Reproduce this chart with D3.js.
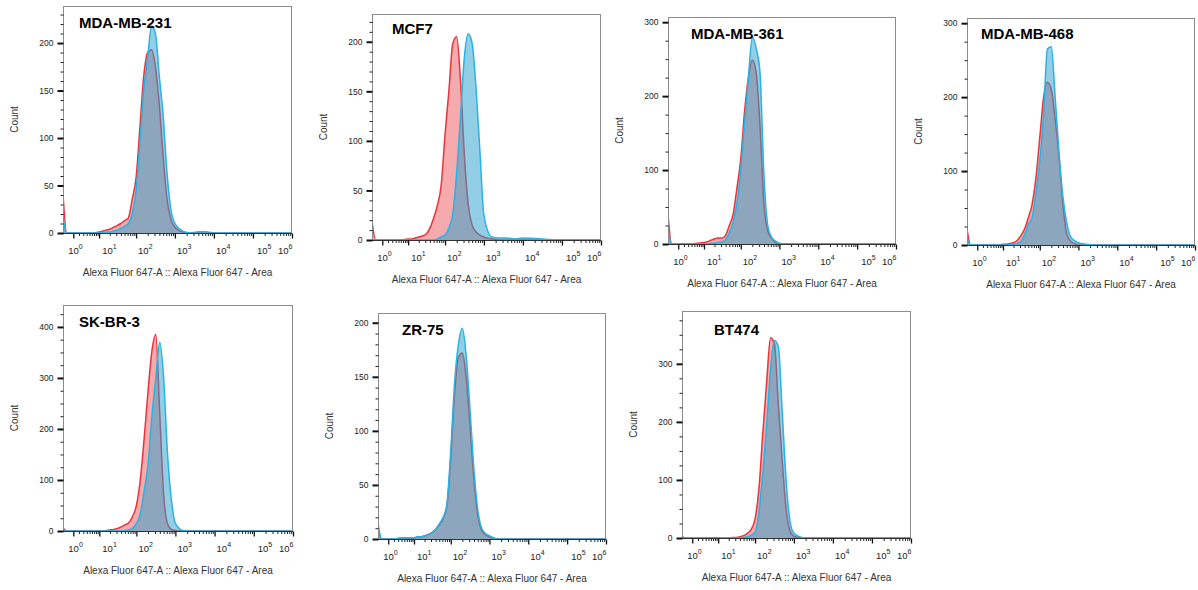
<!DOCTYPE html>
<html>
<head>
<meta charset="utf-8">
<script src="https://cdn.jsdelivr.net/npm/d3@7"></script>
<style>
  body { margin: 0; background: #fff; }
  svg { display: block; font-family: "Liberation Sans", Arial, sans-serif; }
</style>
</head>
<body>
<svg id="chart" width="1198" height="590"></svg>
<script>
// channel values (Alexa Fluor 647-A) where the histogram counts were read
var intensity = [-0.15, 0.2, 1, 2, 4, 6.3, 10, 12.6, 15.8, 20, 25, 32, 40, 50, 63, 79, 100, 126,
  158, 200, 251, 316, 398, 501, 631, 794, 1000, 1585, 2512, 3981, 6310, 10000, 100000, 1000000];

// red = control, blue = stained
var mdaMb231Control = [41,0,0,0,0,0,1,2,3,4,6,8,10,13,16,35,58,112,165,190,193,175,135,80,35,14,6,1,0,1,1,0,0,0];
var mdaMb231Stained = [16,0,0,0,0,0,0,0,1,1,2,3,5,7,10,20,45,95,150,185,218,210,165,123,62,24,10,2,0,0,0,0,0,0];
var mcf7Control = [19,0,0,0,0,0,1,1,2,3,4,6,12,22,35,55,107,151,198,205,160,85,35,15,8,5,3,1,0,0,0,0,0,0];
var mcf7Stained = [0,0,0,0,0,0,0,0,0,0,0,0,0,0,1,3,5,12,26,68,125,185,208,198,152,88,25,3,2,2,1,2,0,0];
var mdaMb361Control = [40,0,0,0,0,1,2,3,5,7,8,8,12,25,40,75,115,180,225,249,232,160,55,18,8,2,0,0,0,0,0,0,0,0];
var mdaMb361Stained = [21,0,0,0,0,0,0,0,1,1,2,3,6,15,30,55,100,165,225,280,265,232,95,25,9,4,1,0,0,0,0,0,0,0];
var mdaMb468Control = [22,0,0,0,0,0,1,1,2,3,6,13,22,37,55,90,145,200,220,210,170,120,55,15,5,2,0,0,0,0,0,0,0,0];
var mdaMb468Stained = [9,0,0,0,0,0,0,0,1,1,2,5,14,28,37,70,113,178,265,268,200,125,65,30,11,6,3,1,0,0,0,0,0,0];
var skBr3Control = [6,0,0,0,0,0,0,0,1,2,3,5,8,12,16,28,50,100,180,275,353,385,230,72,14,3,1,0,0,0,0,0,0,0];
var skBr3Stained = [0,0,0,0,0,0,0,0,0,0,0,0,0,1,2,5,15,33,78,130,225,300,370,300,150,60,15,1,0,0,0,0,0,0];
var zr75Control = [10,0,0,0,1,1,1,2,2,3,4,6,9,13,19,30,75,135,168,172,150,105,55,22,8,4,2,0,0,0,0,0,0,0];
var zr75Stained = [15,0,0,0,1,1,1,2,2,3,4,6,9,14,20,32,82,145,180,195,170,120,65,27,10,5,3,0,0,0,0,0,0,0];
var bt474Control = [3,0,0,0,0,0,0,0,0,0,1,1,2,4,8,15,33,85,179,270,345,335,230,133,50,12,3,0,0,0,0,0,0,0];
var bt474Stained = [1,0,0,0,0,0,0,0,0,0,0,0,1,1,2,5,10,45,110,195,290,340,330,218,100,29,8,1,0,0,0,0,0,0];

var countTicks50 = [0, 50, 100, 150, 200];
var countTicks300 = [0, 100, 200, 300];
var countTicks400 = [0, 100, 200, 300, 400];

var decades = [1, 10, 100, 1000, 10000, 100000, 1000000];
var decadeExponents = ['0', '1', '2', '3', '4', '5', '6'];

var panels = [
  {name: 'MDA-MB-231', control: mdaMb231Control, stained: mdaMb231Stained, yMax: 239, ticks: countTicks50, minor: 10},
  {name: 'MCF7', control: mcf7Control, stained: mcf7Stained, yMax: 228, ticks: countTicks50, minor: 10},
  {name: 'MDA-MB-361', control: mdaMb361Control, stained: mdaMb361Stained, yMax: 307, ticks: countTicks300, minor: 25},
  {name: 'MDA-MB-468', control: mdaMb468Control, stained: mdaMb468Stained, yMax: 307, ticks: countTicks300, minor: 25},
  {name: 'SK-BR-3', control: skBr3Control, stained: skBr3Stained, yMax: 443, ticks: countTicks400, minor: 25},
  {name: 'ZR-75', control: zr75Control, stained: zr75Stained, yMax: 209, ticks: countTicks50, minor: 10},
  {name: 'BT474', control: bt474Control, stained: bt474Stained, yMax: 391, ticks: countTicks300, minor: 25}
];

// plot boxes [left, top, right, bottom] and title offsets inside them
var frames = [
  [63, 6, 292, 233], [372, 14, 601, 240], [668, 17, 896, 244], [967, 18, 1195, 245],
  [63, 305, 293, 531], [378, 313, 606, 539], [682, 311, 911, 538]
];
var titleOffsets = [[16, 22], [20, 20], [23, 22], [14, 21], [16, 22], [24, 22], [32, 24]];
var labelShift = [-5, 3, 2, 2, 2, 4, -14];

var red = {line: '#e8343c', fill: 'rgba(232, 52, 60, 0.42)'};
var blue = {line: '#29b3e4', fill: 'rgba(38, 160, 205, 0.5)'};

var svg = d3.select('#chart');

panels.forEach(function(p, i) {
  var f = frames[i];
  var left = f[0], top = f[1], right = f[2], bottom = f[3];

  var x = d3.scaleSymlog().constant(1.5).domain([-0.15, 1e6]).range([left, right]);
  var y = d3.scaleLinear().domain([0, p.yMax]).range([bottom, top]);

  var g = svg.append('g').attr('class', 'panel');

  g.append('clipPath').attr('id', 'clip' + i)
    .append('rect')
    .attr('x', left).attr('y', top)
    .attr('width', right - left).attr('height', bottom - top);

  var plot = g.append('g').attr('clip-path', 'url(#clip' + i + ')');

  var area = d3.area()
    .x(function(d) { return x(d[0]); })
    .y0(y(0))
    .y1(function(d) { return y(d[1]); })
    .curve(d3.curveMonotoneX);
  var line = d3.line()
    .x(function(d) { return x(d[0]); })
    .y(function(d) { return y(d[1]); })
    .curve(d3.curveMonotoneX);

  [[p.control, red], [p.stained, blue]].forEach(function(s) {
    var pts = intensity.map(function(v, k) { return [v, s[0][k]]; });
    plot.append('path').datum(pts)
      .attr('d', area)
      .attr('fill', s[1].fill);
    plot.append('path').datum(pts)
      .attr('d', line)
      .attr('fill', 'none')
      .attr('stroke', s[1].line)
      .attr('stroke-width', 1.5);
  });

  // frame
  g.append('rect')
    .attr('x', left + 0.5).attr('y', top + 0.5)
    .attr('width', right - left - 1).attr('height', bottom - top)
    .attr('fill', 'none')
    .attr('stroke', '#8c8c8c');
  g.append('line')
    .attr('x1', left).attr('x2', right)
    .attr('y1', bottom + 0.5).attr('y2', bottom + 0.5)
    .attr('stroke', '#333');

  // y axis
  var minors = d3.range(0, p.yMax, p.minor).filter(function(v) {
    return p.ticks.indexOf(v) < 0;
  });
  var yMinor = g.append('g')
    .attr('transform', 'translate(' + (left + 0.5) + ',0)')
    .call(d3.axisLeft(y).tickValues(minors).tickSize(3).tickFormat(''));
  var yMajor = g.append('g')
    .attr('transform', 'translate(' + (left + 0.5) + ',0)')
    .call(d3.axisLeft(y).tickValues(p.ticks).tickSize(6).tickPadding(4));
  yMajor.selectAll('line').attr('stroke-width', 2).attr('stroke', '#111');
  yMinor.selectAll('line').attr('stroke', '#222');
  yMajor.selectAll('text')
    .attr('font-size', 8.5)
    .attr('fill', '#222')
    .attr('font-family', '"Liberation Sans", Arial, sans-serif');
  yMajor.select('.domain').remove();
  yMinor.select('.domain').remove();

  // x axis
  var xMinorVals = [];
  decades.slice(0, -1).forEach(function(d) {
    for (var m = 2; m < 10; m++) xMinorVals.push(d * m);
  });
  var xMinor = g.append('g')
    .attr('transform', 'translate(0,' + (bottom + 0.5) + ')')
    .call(d3.axisBottom(x).tickValues(xMinorVals).tickSize(2.5).tickFormat(''));
  var xMajor = g.append('g')
    .attr('transform', 'translate(0,' + (bottom + 0.5) + ')')
    .call(d3.axisBottom(x).tickValues(decades).tickSize(5).tickFormat(''));
  xMajor.selectAll('line').attr('stroke', '#111').attr('stroke-width', 1.3);
  xMinor.selectAll('line').attr('stroke', '#222');
  xMajor.select('.domain').remove();
  xMinor.select('.domain').remove();

  decades.forEach(function(d, k) {
    var t = g.append('text')
      .attr('x', x(d) + labelShift[k])
      .attr('y', bottom + 21)
      .attr('fill', '#222')
      .attr('font-size', 9.5);
    t.append('tspan').text('10');
    t.append('tspan').attr('dy', -5).attr('font-size', 7).text(decadeExponents[k]);
  });

  // titles
  g.append('text')
    .attr('x', left + titleOffsets[i][0])
    .attr('y', top + titleOffsets[i][1])
    .attr('font-size', 15)
    .attr('font-weight', 'bold')
    .attr('fill', '#000')
    .text(p.name);

  g.append('text')
    .attr('x', (left + right) / 2)
    .attr('y', bottom + 43)
    .attr('text-anchor', 'middle')
    .attr('font-size', 10)
    .attr('fill', '#333')
    .text('Alexa Fluor 647-A :: Alexa Fluor 647 - Area');

  g.append('text')
    .attr('transform', 'translate(' + (left - 45) + ',' + ((top + bottom) / 2) + ') rotate(-90)')
    .attr('text-anchor', 'middle')
    .attr('font-size', 10)
    .attr('fill', '#333')
    .text('Count');
});
</script>
</body>
</html>
